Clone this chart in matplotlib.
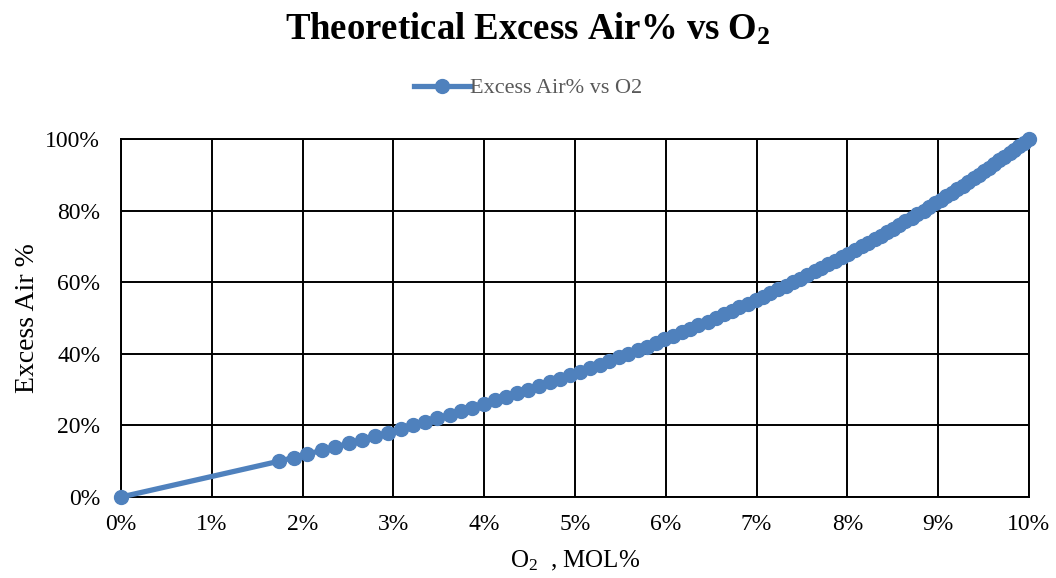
import numpy as np
import matplotlib.pyplot as plt
from matplotlib.ticker import PercentFormatter, MultipleLocator

plt.rcParams['font.family'] = ['Liberation Serif', 'DejaVu Serif']
plt.rcParams['mathtext.fontset'] = 'custom'
plt.rcParams['mathtext.rm'] = 'Liberation Serif'
plt.rcParams['mathtext.bf'] = 'Liberation Serif:bold'

# data (percent)
excess_air = [0] + list(range(10, 101))
o2 = [0.00,
      1.74, 1.90, 2.05, 2.21, 2.36, 2.51, 2.65, 2.80, 2.94, 3.08,
      3.22, 3.35, 3.48, 3.62, 3.75, 3.87, 4.00, 4.12, 4.24, 4.36,
      4.48, 4.60, 4.72, 4.83, 4.94, 5.05, 5.16, 5.27, 5.37, 5.48,
      5.58, 5.69, 5.79, 5.89, 5.98, 6.08, 6.18, 6.27, 6.36, 6.46,
      6.55, 6.64, 6.73, 6.81, 6.90, 6.99, 7.07, 7.15, 7.24, 7.32,
      7.40, 7.48, 7.56, 7.64, 7.71, 7.79, 7.86, 7.94, 8.01, 8.08,
      8.16, 8.23, 8.30, 8.37, 8.44, 8.50, 8.57, 8.64, 8.71, 8.77,
      8.84, 8.90, 8.96, 9.03, 9.09, 9.15, 9.21, 9.27, 9.33, 9.39,
      9.45, 9.50, 9.56, 9.62, 9.67, 9.73, 9.79, 9.84, 9.89, 9.95,
      10.00]

blue = '#4F81BD'

fig = plt.figure(figsize=(10.56, 5.78), dpi=100)
ax = fig.add_axes([0.1146, 0.1401, 0.8598, 0.6194])

ax.plot(o2, excess_air, color=blue, lw=3.8, marker='o', ms=10,
        label='Excess Air% vs O2', clip_on=False, zorder=5)

ax.set_xlim(0, 10)
ax.set_ylim(0, 100)
ax.xaxis.set_major_locator(MultipleLocator(1))
ax.yaxis.set_major_locator(MultipleLocator(20))
ax.xaxis.set_major_formatter(PercentFormatter(decimals=0))
ax.yaxis.set_major_formatter(PercentFormatter(decimals=0))
ax.tick_params(length=0, labelsize=17)
ax.tick_params(axis='x', pad=12)
ax.tick_params(axis='y', pad=15)
ax.grid(True, color='black', lw=1.4)
ax.set_axisbelow(True)
for s in ax.spines.values():
    s.set_color('black')
    s.set_linewidth(1.4)

ax.set_xlabel(r'$\mathregular{O_2}$  , MOL%', fontsize=18, labelpad=10)
ax.set_ylabel('Excess Air %', fontsize=20, labelpad=4)

fig.text(0.5, 1 - 29 / 578, r'Theoretical Excess Air% vs $\mathregular{O_2}$',
         ha='center', va='center', fontsize=26.5, fontweight='bold')

leg = fig.legend(loc='center', bbox_to_anchor=(0.5, 1 - 88 / 578), frameon=False,
                 fontsize=16, handlelength=2.5, handletextpad=0.0)
for t in leg.get_texts():
    t.set_color('#595959')

fig.savefig('out.png', dpi=100)
